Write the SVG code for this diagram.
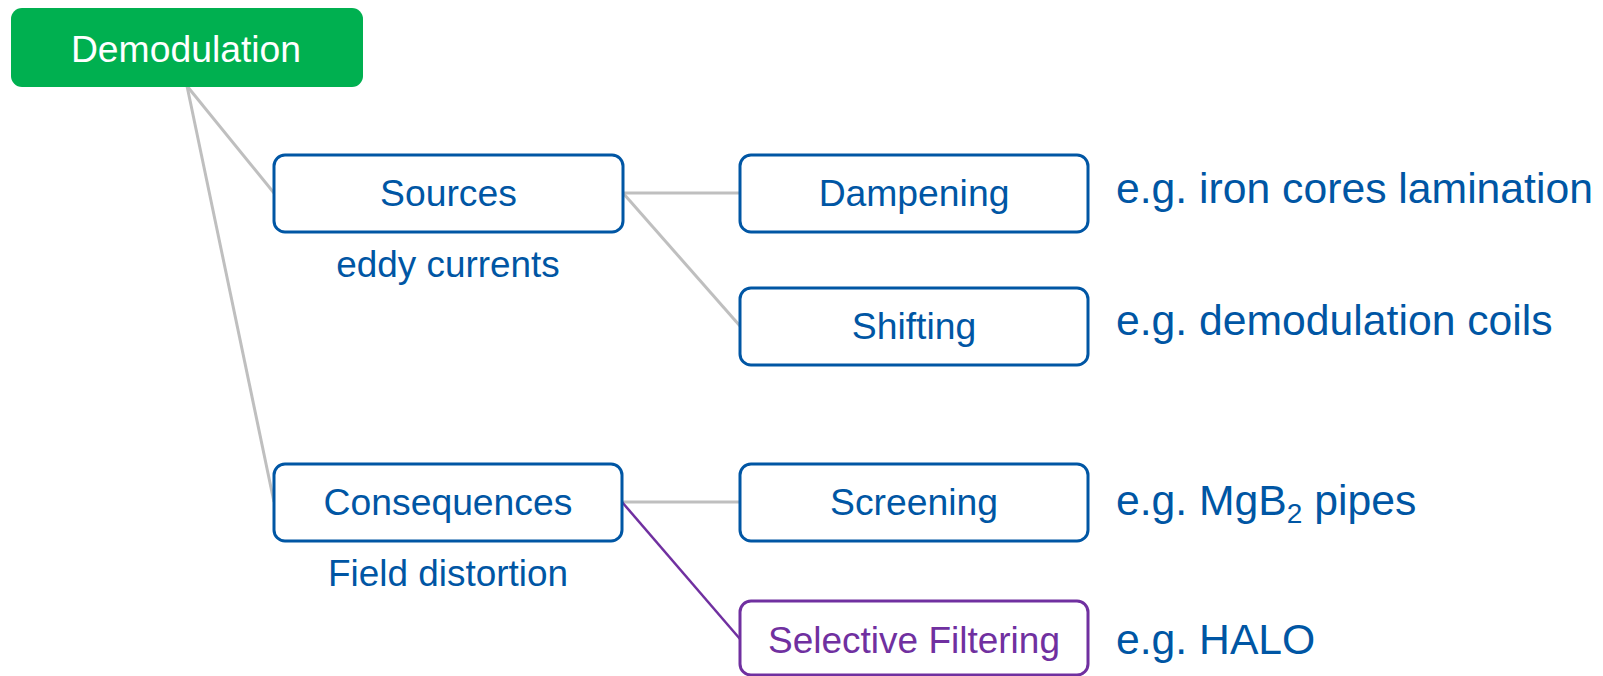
<svg xmlns="http://www.w3.org/2000/svg" width="1603" height="676" viewBox="0 0 1603 676">
<style>
text{font-family:"Liberation Sans",Arial,sans-serif;}
.box{fill:#fff;stroke:#0056A4;stroke-width:3;}
.pbox{fill:#fff;stroke:#7030A0;stroke-width:3;}
.t{font-size:37.3px;fill:#0056A4;text-anchor:middle;}
.st{font-size:36.9px;fill:#0056A4;text-anchor:middle;}
.pt{font-size:37px;fill:#7030A0;text-anchor:middle;}
.eg{font-size:42.7px;fill:#0056A4;}
.gl{stroke:#BFBFBF;stroke-width:3;fill:none;}
.pl{stroke:#7030A0;stroke-width:2.5;fill:none;}
</style>
<g id="connectors">
<line class="gl" x1="187" y1="86" x2="274" y2="193"/>
<line class="gl" x1="187" y1="86" x2="274" y2="502"/>
<line class="gl" x1="623" y1="193" x2="740" y2="193"/>
<line class="gl" x1="623" y1="193" x2="740" y2="326"/>
<line class="gl" x1="622" y1="502" x2="740" y2="502"/>
<line class="pl" x1="622" y1="502" x2="740" y2="639"/>
</g>
<g id="demodulation">
<rect x="11" y="8" width="352" height="79" rx="11" fill="#00B050"/>
<text x="186" y="62" class="t" style="fill:#fff">Demodulation</text>
</g>
<g id="sources">
<rect class="box" x="274" y="155" width="349" height="77" rx="11"/>
<text class="t" x="448.5" y="206">Sources</text>
<text class="st" x="448" y="277">eddy currents</text>
</g>
<g id="consequences">
<rect class="box" x="274" y="464" width="348" height="77" rx="11"/>
<text class="t" x="448" y="515">Consequences</text>
<text class="st" x="448" y="586">Field distortion</text>
</g>
<g id="dampening">
<rect class="box" x="740" y="155" width="348" height="77" rx="11"/>
<text class="t" x="914" y="206">Dampening</text>
</g>
<g id="shifting">
<rect class="box" x="740" y="288" width="348" height="77" rx="11"/>
<text class="t" x="914" y="339">Shifting</text>
</g>
<g id="screening">
<rect class="box" x="740" y="464" width="348" height="77" rx="11"/>
<text class="t" x="914" y="515">Screening</text>
</g>
<g id="selective-filtering">
<rect class="pbox" x="740" y="601" width="348" height="74" rx="11"/>
<text class="pt" x="914" y="653">Selective Filtering</text>
</g>
<g id="examples">
<text class="eg" x="1116" y="203">e.g. iron cores lamination</text>
<text class="eg" x="1116" y="335">e.g. demodulation coils</text>
<text class="eg" x="1116" y="515">e.g. MgB<tspan font-size="28" dy="8">2</tspan><tspan dy="-8"> pipes</tspan></text>
<text class="eg" x="1116" y="654">e.g. HALO</text>
</g>
</svg>
